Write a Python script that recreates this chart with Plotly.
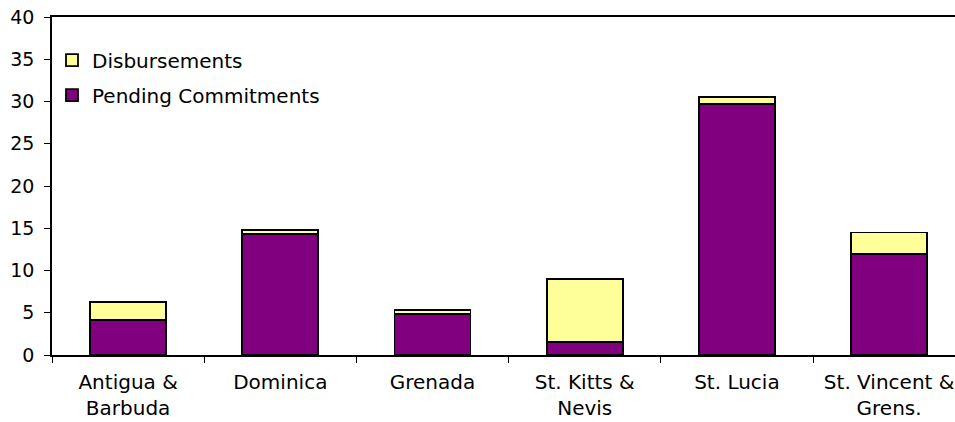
import plotly.graph_objects as go

categories = ["Antigua &<br>Barbuda", "Dominica", "Grenada", "St. Kitts &<br>Nevis", "St. Lucia", "St. Vincent &<br>Grens."]
pending = [4.1, 14.3, 4.9, 1.5, 29.7, 12.0]
disbursements = [2.2, 0.5, 0.4, 7.5, 0.8, 2.5]
y_ticks = [0, 5, 10, 15, 20, 25, 30, 35, 40]

FONT = "DejaVu Sans"

fig = go.Figure()
fig.add_trace(go.Bar(
    x=categories, y=pending, name="Pending Commitments",
    marker=dict(color="#800080", line=dict(color="black", width=1.8)),
    width=0.5, legendgroup="p", legendrank=2,
))
fig.add_trace(go.Bar(
    x=categories, y=disbursements, name="Disbursements",
    marker=dict(color="#FFFF99", line=dict(color="black", width=1.8)),
    width=0.5, legendgroup="d", legendrank=1,
))

fig.update_layout(
    width=955, height=422,
    barmode="stack",
    plot_bgcolor="white", paper_bgcolor="white",
    margin=dict(l=52, r=0, t=17, b=67, autoexpand=False),
    font=dict(family=FONT, size=20, color="black"),
    showlegend=True,
    legend=dict(
        x=0.0, y=0.93, xanchor="left", yanchor="top",
        xref="paper", yref="paper",
        traceorder="grouped", tracegroupgap=6,
        font=dict(family=FONT, size=20, color="black"),
        bgcolor="rgba(0,0,0,0)",
    ),
    xaxis=dict(
        type="category",
        range=[-0.5, 5.433],
        automargin=False,
        showline=True, linecolor="black", linewidth=1.5,
        mirror=True,
        ticks="outside", tickson="boundaries", ticklen=6, tickcolor="black", tickwidth=1,
        showgrid=False, zeroline=False,
        ticklabelstandoff=8,
        tickfont=dict(family=FONT, size=20, color="black"),
    ),
    yaxis=dict(
        range=[0, 40], tickvals=y_ticks,
        automargin=False,
        showline=True, linecolor="black", linewidth=1.5,
        ticks="outside", ticklen=6, tickcolor="black", tickwidth=1,
        showgrid=False, zeroline=False,
        ticklabelstandoff=6,
        tickfont=dict(family=FONT, size=19, color="black"),
    ),
)

fig.write_html("out.html", config={"displayModeBar": False},
               post_script="document.body.style.margin='0';")
